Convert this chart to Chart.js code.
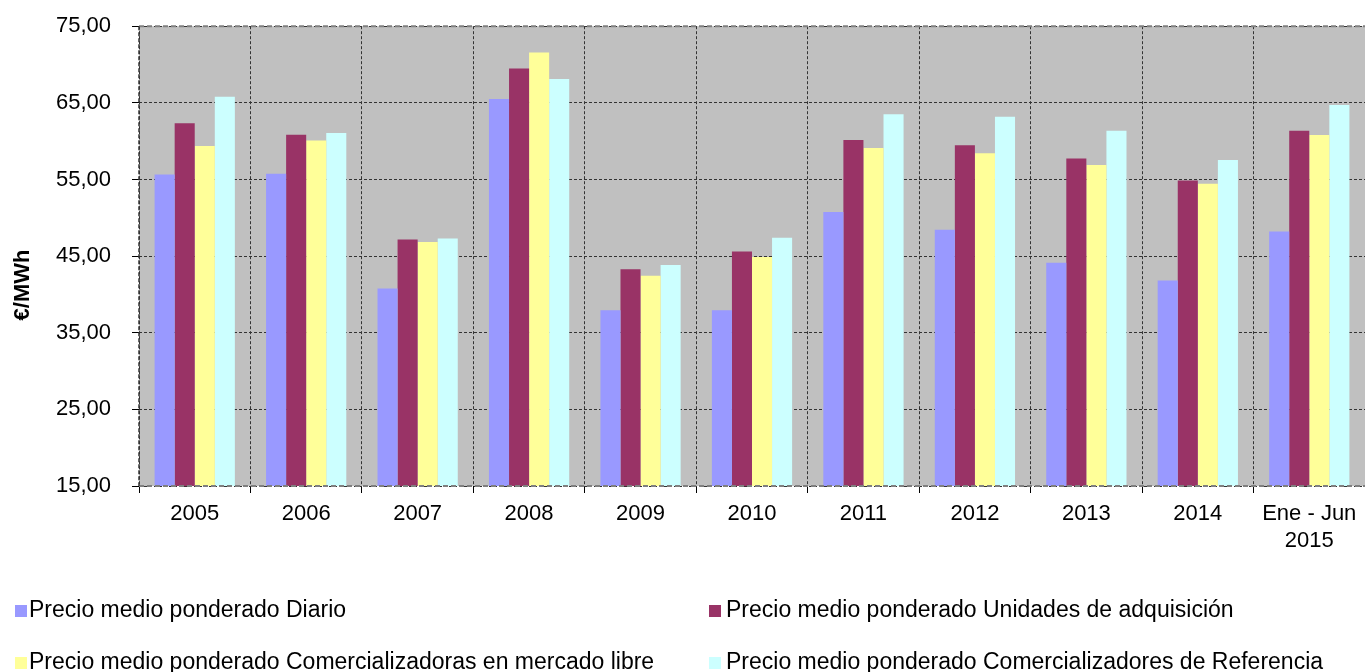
<!DOCTYPE html>
<html><head><meta charset="utf-8">
<script src="https://cdn.jsdelivr.net/npm/chart.js@4/dist/chart.umd.min.js"></script>
<style>
html,body{margin:0;padding:0;background:#fff;width:1365px;height:672px;overflow:hidden;font-family:"Liberation Sans",Arial,sans-serif;color:#000;}
#wrap{position:absolute;left:0;top:-8px;width:1365px;height:568px;}
#ytitle{position:absolute;left:22px;top:285px;transform:translate(-50%,-50%) rotate(-90deg);font-weight:bold;font-size:22px;white-space:nowrap;}
.leg{position:absolute;font-size:23px;white-space:nowrap;line-height:23px;}
.sw{position:absolute;width:12px;height:12px;}
</style></head>
<body>
<div id="wrap"><canvas id="c" width="1365" height="568"></canvas></div>
<div id="ytitle">€/MWh</div>
<div id="legend"></div>
<script>
const categories = ['2005','2006','2007','2008','2009','2010','2011','2012','2013','2014',['Ene - Jun','2015']];
const diario     = [55.64, 55.73, 40.76, 65.50, 37.93, 37.93, 50.74, 48.44, 44.14, 41.80, 48.22];
const unidades   = [62.33, 60.85, 47.18, 69.49, 43.27, 45.61, 60.16, 59.47, 57.73, 54.86, 61.37];
const libre      = [59.37, 60.07, 46.83, 71.57, 42.45, 44.88, 59.11, 58.42, 56.90, 54.43, 60.81];
const referencia = [65.80, 61.07, 47.31, 68.10, 43.84, 47.40, 63.50, 63.20, 61.37, 57.55, 64.71];
const seriesLabels = [
  'Precio medio ponderado Diario',
  'Precio medio ponderado Unidades de adquisición',
  'Precio medio ponderado Comercializadoras en mercado libre',
  'Precio medio ponderado Comercializadores de Referencia'
];
const seriesColors = ['#9999FF','#993366','#FFFF99','#CCFFFF'];
const yMin = 15, yMax = 75, yStep = 10;

const bgPlugin = {
  id:'bg',
  beforeDraw(chart){
    const {ctx, chartArea:a} = chart;
    ctx.save();
    ctx.fillStyle = '#C0C0C0';
    ctx.fillRect(a.left, a.top, a.right - a.left, a.bottom - a.top);
    ctx.restore();
  },
  afterDatasetsDraw(chart){
    const {ctx, chartArea:a} = chart;
    ctx.save();
    ctx.strokeStyle = '#808080';
    ctx.lineWidth = 2;
    ctx.setLineDash([5,3]);
    ctx.beginPath();
    ctx.moveTo(a.left, a.top); ctx.lineTo(a.right, a.top);
    ctx.moveTo(a.left, a.bottom); ctx.lineTo(a.right, a.bottom);
    ctx.stroke();
    ctx.strokeStyle = '#333';
    ctx.lineWidth = 1.5;
    ctx.setLineDash([4,2]);
    ctx.beginPath();
    ctx.moveTo(a.left, a.top); ctx.lineTo(a.left, a.bottom);
    ctx.stroke();
    ctx.restore();
  }
};

const datasets = [diario, unidades, libre, referencia].map((d, i) => ({
  label: seriesLabels[i],
  data: d,
  backgroundColor: seriesColors[i],
  borderWidth: 0,
  categoryPercentage: 0.72,
  barPercentage: 1.0
}));

const font = {family:'"Liberation Sans", Arial, sans-serif', size:22};

new Chart(document.getElementById('c'), {
  type:'bar',
  data:{labels:categories, datasets},
  plugins:[bgPlugin],
  options:{
    responsive:false,
    animation:false,
    layout:{padding:{top:17,left:0,right:0,bottom:0}},
    plugins:{legend:{display:false}, tooltip:{enabled:false}},
    scales:{
      x:{
        grid:{color:'#333', lineWidth:1, offset:true, tickLength:7, tickColor:'#000', tickWidth:1},
        border:{display:false, dash:[3,2]},
        ticks:{color:'#000', font, padding:8, maxRotation:0, autoSkip:false},
        afterFit(s){ s.height = 74; }
      },
      y:{
        min:yMin, max:yMax,
        grid:{color:'#333', lineWidth:1, tickLength:7, tickColor:'#000', tickWidth:1},
        border:{display:false, dash:[3,2]},
        ticks:{stepSize:yStep, color:'#000', font, padding:21,
          callback:v => v.toFixed(2).replace('.',',')},
        afterFit(s){ s.width = 139; }
      }
    }
  }
});

// legend
const legPos = [
  {sx:15, tx:29, base:617},
  {sx:709, tx:726, base:617},
  {sx:15, tx:29, base:669},
  {sx:709, tx:726, base:669}
];
const leg = document.getElementById('legend');
seriesLabels.forEach((lab, i) => {
  const p = legPos[i];
  const sw = document.createElement('div');
  sw.className = 'sw';
  sw.style.left = p.sx + 'px';
  sw.style.top = (p.base - 12) + 'px';
  sw.style.background = seriesColors[i];
  leg.appendChild(sw);
  const t = document.createElement('div');
  t.className = 'leg';
  t.style.left = p.tx + 'px';
  t.style.top = (p.base - 19.4) + 'px';
  t.textContent = lab;
  leg.appendChild(t);
});
</script>
</body></html>
